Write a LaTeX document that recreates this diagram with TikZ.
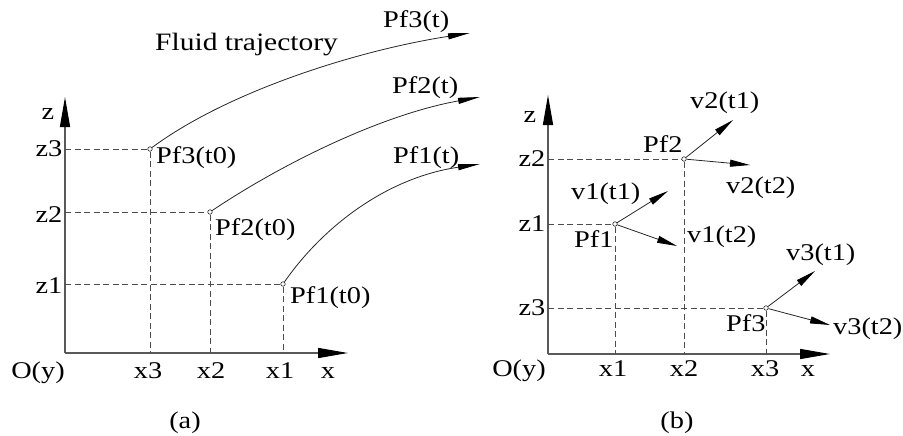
\documentclass[tikz,border=0pt]{standalone}
\usepackage{fontspec}
\setmainfont{Liberation Serif}[FakeStretch=1.18]
\usetikzlibrary{arrows.meta}
\tikzset{
  lbl/.style={inner sep=0pt, anchor=base west, font=\fontsize{24}{24}\selectfont},
  lblc/.style={inner sep=0pt, anchor=base, font=\fontsize{24}{24}\selectfont},
  axis/.style={line width=1.4pt, draw=black!65, -{Triangle[length=30pt,width=10pt,black]}},
  guide/.style={line width=0.9pt, draw=black!70, dash pattern=on 6pt off 3.5pt},
  traj/.style={line width=0.8pt, draw=black!85, -{Triangle[length=22pt,width=6pt,black]}},
  vec/.style={line width=0.8pt, draw=black!85, -{Triangle[length=20pt,width=7pt,black]}},
  pt/.style={circle, draw=black!85, line width=0.6pt, inner sep=0pt, minimum size=4.5pt, fill=white}
}
\begin{document}
\begin{tikzpicture}[x=1pt,y=-1pt]
\useasboundingbox (0,0) rectangle (903,436);
% ---------- panel (a) ----------
\coordinate (Oa) at (65,353);
\coordinate (za) at (65,97);
\coordinate (xa) at (348,353);
\draw[axis] (Oa) -- (za);
\draw[axis] (Oa) -- (xa);
\node[pt] (a3) at (150,149) {};
\node[pt] (a2) at (210,212) {};
\node[pt] (a1) at (283,284) {};
\coordinate (az3) at (65,149);
\coordinate (az2) at (65,212);
\coordinate (az1) at (65,284);
\coordinate (ax3) at (150,353);
\coordinate (ax2) at (210,353);
\coordinate (ax1) at (283,353);
\draw[guide] (az3) -- (a3.west);
\draw[guide] (a3.south) -- (ax3);
\draw[guide] (az2) -- (a2.west);
\draw[guide] (a2.south) -- (ax2);
\draw[guide] (az1) -- (a1.west);
\draw[guide] (a1.south) -- (ax1);
\coordinate (e3) at (470,33);
\coordinate (e2) at (480,97);
\coordinate (e1) at (480,164);
\draw[traj] (a3) .. controls (230,90) and (360,50) .. (e3);
\draw[traj] (a2) .. controls (280,165) and (380,115) .. (e2);
\draw[traj] (a1) .. controls (322,228) and (385,178) .. (e1);
\node[lblc] (lza) at (48,120) {z};
\node[lblc] (lz3a) at (49,157) {z3};
\node[lblc] (lz2a) at (49,222) {z2};
\node[lblc] (lz1a) at (49,293) {z1};
\node[lblc] (lOa) at (38,378) {O(y)};
\node[lblc] (lx3a) at (148,378) {x3};
\node[lblc] (lx2a) at (211,378) {x2};
\node[lblc] (lx1a) at (280,378) {x1};
\node[lblc] (lxa) at (328,378) {x};
\node[lbl] (t3) at (156,163) {Pf3(t0)};
\node[lbl] (t2) at (215,235) {Pf2(t0)};
\node[lbl] (t1) at (290,303) {Pf1(t0)};
\node[lbl] (f3) at (383,28) {Pf3(t)};
\node[lbl] (f2) at (392,93) {Pf2(t)};
\node[lbl] (f1) at (393,163) {Pf1(t)};
\node[lbl, font=\fontsize{25}{25}\selectfont] (ft) at (155,51) {Fluid trajectory};
\node[lblc] (capa) at (185,428) {(a)};
% ---------- panel (b) ----------
\coordinate (Ob) at (548,354);
\coordinate (zb) at (548,95);
\coordinate (xb) at (830,354);
\draw[axis] (Ob) -- (zb);
\draw[axis] (Ob) -- (xb);
\node[pt] (b1) at (615,224) {};
\node[pt] (b2) at (684,159) {};
\node[pt] (b3) at (766,308) {};
\coordinate (bz1) at (548,224);
\coordinate (bz2) at (548,159);
\coordinate (bz3) at (548,308);
\coordinate (bx1) at (615,354);
\coordinate (bx2) at (684,354);
\coordinate (bx3) at (766,354);
\draw[guide] (bz1) -- (b1.west);
\draw[guide] (b1.south) -- (bx1);
\draw[guide] (bz2) -- (b2.west);
\draw[guide] (b2.south) -- (bx2);
\draw[guide] (bz3) -- (b3.west);
\draw[guide] (b3.south) -- (bx3);
\coordinate (v2a) at (733,120);
\coordinate (v2b) at (750,165);
\coordinate (v1a) at (668,191);
\coordinate (v1b) at (677,246);
\coordinate (v3a) at (815,271);
\coordinate (v3b) at (830,325);
\draw[vec] (b2) -- (v2a);
\draw[vec] (b2) -- (v2b);
\draw[vec] (b1) -- (v1a);
\draw[vec] (b1) -- (v1b);
\draw[vec] (b3) -- (v3a);
\draw[vec] (b3) -- (v3b);
\node[lblc] (lzb) at (530,122) {z};
\node[lblc] (lz2b) at (532,166) {z2};
\node[lblc] (lz1b) at (532,231) {z1};
\node[lblc] (lz3b) at (532,315) {z3};
\node[lblc] (lOb) at (519,376) {O(y)};
\node[lblc] (lx1b) at (613,376) {x1};
\node[lblc] (lx2b) at (684,376) {x2};
\node[lblc] (lx3b) at (765,376) {x3};
\node[lblc] (lxb) at (808,376) {x};
\node[lbl] (n2) at (643,153) {Pf2};
\node[lbl] (n1) at (574,247) {Pf1};
\node[lbl] (n3) at (726,331) {Pf3};
\node[lbl] (w2a) at (690,108) {v2(t1)};
\node[lbl] (w2b) at (726,193) {v2(t2)};
\node[lbl] (w1a) at (571,199) {v1(t1)};
\node[lbl] (w1b) at (687,242) {v1(t2)};
\node[lbl] (w3a) at (786,260) {v3(t1)};
\node[lbl] (w3b) at (833,334) {v3(t2)};
\node[lblc] (capb) at (677,428) {(b)};
\end{tikzpicture}
\end{document}
